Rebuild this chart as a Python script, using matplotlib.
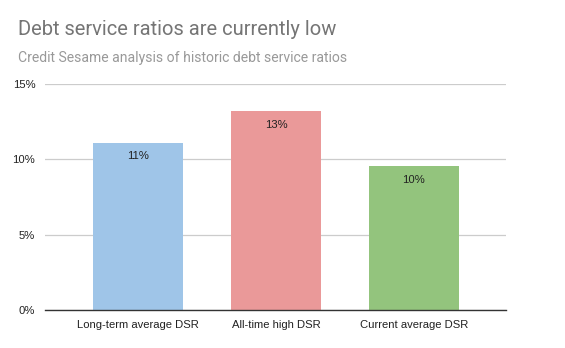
import matplotlib
matplotlib.use('Agg')
import matplotlib.pyplot as plt
from matplotlib.ticker import FuncFormatter

categories = ['Long-term average DSR', 'All-time high DSR', 'Current average DSR']
dsr = [11.08, 13.18, 9.54]
bar_colors = ['#9fc5e8', '#ea9999', '#93c47d']
yticks = [0, 5, 10, 15]

plt.rcParams['font.family'] = ['Roboto', 'DejaVu Sans']
arial = ['Liberation Sans', 'DejaVu Sans']

fig = plt.figure(figsize=(5.65, 3.48), dpi=100)
ax = fig.add_axes([45/565, 1 - 310.3/348, 461/565, (310.3 - 83.7)/348])

x = list(range(len(categories)))
bars = ax.bar(x, dsr, width=0.65, color=bar_colors, zorder=3)

for b, v in zip(bars, dsr):
    ax.annotate('%d%%' % round(v), (b.get_x() + b.get_width()/2, v),
                xytext=(0, -6), textcoords='offset points',
                ha='center', va='top', fontsize=8.1, color='#222222',
                family=arial, zorder=4)

ax.set_xlim(-0.674, 2.667)
ax.set_ylim(0, 15)
ax.set_yticks(yticks)
ax.yaxis.set_major_formatter(FuncFormatter(lambda v, p: '%d%%' % v))
ax.set_xticks(x)
ax.set_xticklabels(categories)
ax.grid(axis='y', color='#cccccc', linewidth=0.9, zorder=0)
ax.tick_params(axis='both', length=0, labelsize=8.1, labelcolor='#222222')
ax.tick_params(axis='x', pad=7)
ax.tick_params(axis='y', pad=7)
for lab in ax.get_xticklabels() + ax.get_yticklabels():
    lab.set_family(arial)
for s in ['top', 'right', 'left']:
    ax.spines[s].set_visible(False)
ax.spines['bottom'].set_color('#333333')
ax.spines['bottom'].set_linewidth(1.0)
ax.spines['bottom'].set_zorder(5)

fig.text(18/565, 1 - 35/348, 'Debt service ratios are currently low',
         fontsize=14.5, color='#757575', ha='left', va='baseline')
fig.text(18/565, 1 - 62/348, 'Credit Sesame analysis of historic debt service ratios',
         fontsize=10.1, color='#999999', ha='left', va='baseline')

fig.savefig('out.png', dpi=100, facecolor='white')
